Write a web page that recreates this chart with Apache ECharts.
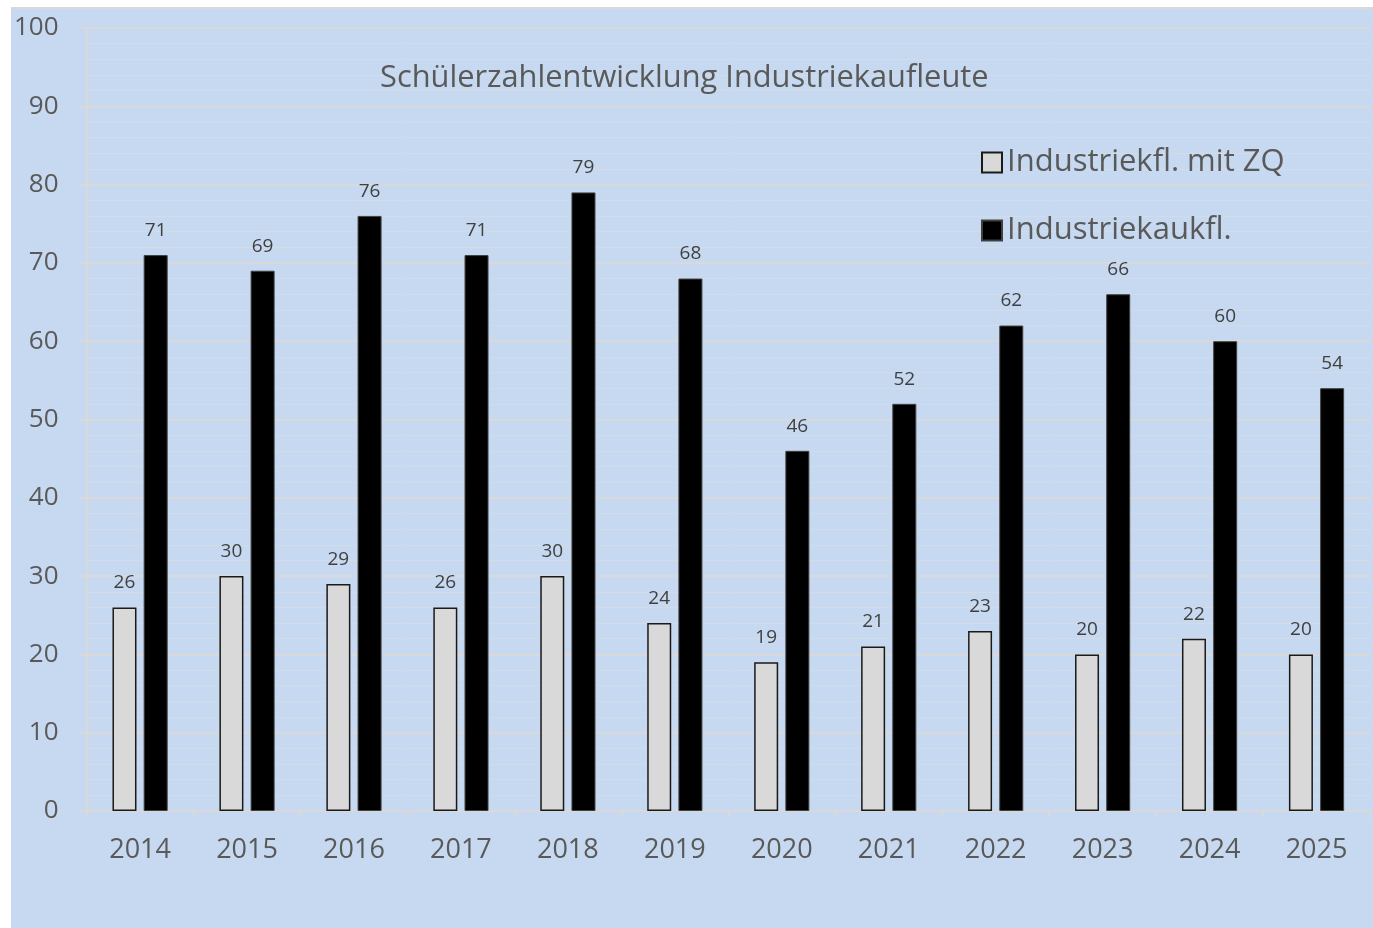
<!DOCTYPE html>
<html>
<head>
<meta charset="utf-8">
<script src="https://cdn.jsdelivr.net/npm/echarts@6/dist/echarts.min.js"></script>
<style>
html,body{margin:0;padding:0;background:#fff;width:1373px;height:928px;overflow:hidden;}
#c{position:absolute;left:11px;top:7px;width:1362px;height:921px;border-top:2px solid #d9d9d9;}
</style>
</head>
<body>
<div id="c"></div>
<script>
const years = ['2014','2015','2016','2017','2018','2019','2020','2021','2022','2023','2024','2025'];
const mitZQ = [26,30,29,26,30,24,19,21,23,20,22,20];
const kaufl = [71,69,76,71,79,68,46,52,62,66,60,54];
const yTicks = [0,10,20,30,40,50,60,70,80,90,100];

const chart = echarts.init(document.getElementById('c'));
const font = '"Open Sans", sans-serif';
chart.setOption({
  backgroundColor: '#c6d9f1',
  animation: false,
  textStyle: {fontFamily: font},
  title: {
    text: 'Schülerzahlentwicklung Industriekaufleute',
    left: 364, top: 49,
    textStyle: {fontFamily: font, fontSize: 30.8, fontWeight: 'normal', color: '#595959'}
  },
  legend: {
    orient: 'vertical',
    left: 965, top: 133,
    itemWidth: 20, itemHeight: 20, itemGap: 37,
    icon: 'rect',
    textStyle: {fontFamily: font, fontSize: 31, color: '#595959', padding: [0,0,0,0]},
    data: ['Industriekfl. mit ZQ', 'Industriekaukfl.']
  },
  grid: {left: 75, right: 3, top: 19, bottom: 119},
  xAxis: {
    type: 'category',
    data: years,
    axisLine: {lineStyle: {color: '#d9d9d9', width: 2}},
    axisTick: {show: true, length: 6, lineStyle: {color: '#d9d9d9', width: 2}},
    axisLabel: {color: '#595959', fontSize: 27, fontFamily: font, margin: 26}
  },
  yAxis: {
    type: 'value',
    min: yTicks[0], max: yTicks[yTicks.length-1], interval: 10,
    axisLine: {show: true, lineStyle: {color: '#d9d9d9', width: 2}},
    axisTick: {show: true, length: 8, lineStyle: {color: '#d9d9d9', width: 2}},
    axisLabel: {color: '#595959', fontSize: 26, fontFamily: font, margin: 28},
    splitLine: {lineStyle: {color: '#d9d9d9', width: 2}},
    minorTick: {show: false, splitNumber: 5},
    minorSplitLine: {show: true, lineStyle: {color: '#d3dbe6', width: 1}}
  },
  series: [
    {
      name: 'Industriekfl. mit ZQ',
      type: 'bar',
      data: mitZQ,
      barWidth: 24,
      barGap: '30%',
      itemStyle: {color: '#d9d9d9', borderColor: '#1a1a1a', borderWidth: 1.5},
      label: {show: true, position: 'top', distance: 15, color: '#404040', fontSize: 19, fontFamily: font}
    },
    {
      name: 'Industriekaukfl.',
      type: 'bar',
      data: kaufl,
      barWidth: 24,
      itemStyle: {color: '#000000', borderColor: '#404040', borderWidth: 1},
      label: {show: true, position: 'top', distance: 15, color: '#404040', fontSize: 19, fontFamily: font}
    }
  ]
});
</script>
</body>
</html>
